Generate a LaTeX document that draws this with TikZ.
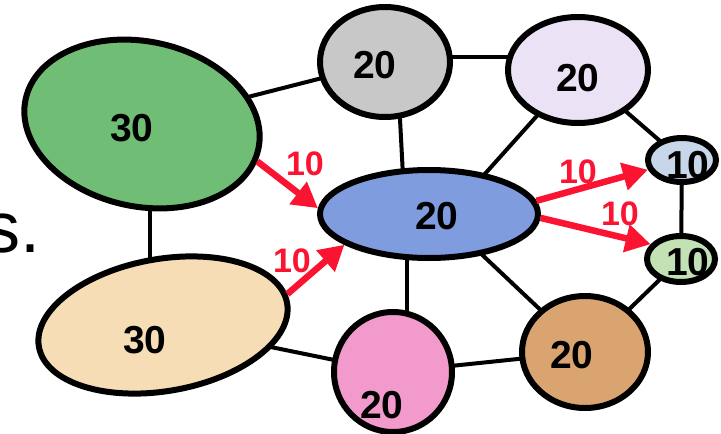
\documentclass[tikz,border=0pt]{standalone}
\usepackage{fontspec}
\setmainfont{Liberation Sans}
\usetikzlibrary{shapes.geometric,arrows.meta,backgrounds}
\definecolor{cgreen}{RGB}{112,190,118}
\definecolor{ctan}{RGB}{246,221,182}
\definecolor{cgray}{RGB}{200,200,200}
\definecolor{clav}{RGB}{236,226,246}
\definecolor{cblue}{RGB}{126,156,222}
\definecolor{csblue}{RGB}{200,214,234}
\definecolor{csgreen}{RGB}{194,226,182}
\definecolor{cpink}{RGB}{242,154,204}
\definecolor{cbrown}{RGB}{218,164,112}
\definecolor{cred}{RGB}{250,20,50}
\begin{document}
\begin{tikzpicture}[x=1pt,y=-1pt,
  blob/.style={ellipse,draw=black,line width=6pt,inner sep=0pt},
  link/.style={line width=4pt},
  flow/.style={draw=cred,line width=6.5pt,-{Triangle[length=25pt,width=27pt]}},
  val/.style={font=\fontsize{39}{39}\bfseries\selectfont,inner sep=0pt},
  flowlbl/.style={text=cred,font=\fontsize{34}{34}\bfseries\selectfont,inner sep=0pt}]
\useasboundingbox (0,0) rectangle (721,434);

% trailing text at the left edge
\node[anchor=base west,inner sep=0pt,font=\fontsize{72}{72}\selectfont] (tail) at (-16,252) {s.};

% regions
\node[blob,fill=cgreen,minimum width=238pt,minimum height=165pt,rotate=-12] (green) at (142,124) {};
\node[blob,fill=ctan,minimum width=252pt,minimum height=132pt,rotate=10] (tan) at (163,325) {};
\node[blob,fill=cgray,minimum width=130pt,minimum height=110pt] (gray) at (385,62) {};
\node[blob,fill=clav,minimum width=140pt,minimum height=106pt] (lav) at (578,70) {};
\node[blob,fill=cblue,minimum width=218pt,minimum height=88pt] (blue) at (429,214) {};
\node[blob,fill=csblue,minimum width=68pt,minimum height=44pt] (sblue) at (682,160) {};
\node[blob,fill=csgreen,minimum width=68pt,minimum height=46pt] (sgreen) at (681,259) {};
\node[blob,fill=cpink,minimum width=118pt,minimum height=120pt] (pink) at (393,372) {};
\node[blob,fill=cbrown,minimum width=126pt,minimum height=112pt] (brown) at (585,352) {};

% neighbour links, behind the regions
\begin{scope}[on background layer]
\draw[link] (green.center) -- (gray.center);
\draw[link] ([xshift=8pt]green.center) -- ([xshift=-13pt]tan.center);
\draw[link] ([yshift=5pt]gray.center) -- ([yshift=13pt]lav.center);
\draw[link] ([xshift=12pt]gray.center) -- ([xshift=-24pt]blue.center);
\draw[link] (lav.center) -- ([xshift=20pt]blue.center);
\draw[link] (lav.center) -- (sblue.center);
\draw[link] (sblue.center) -- (sgreen.center);
\draw[link] ([xshift=-22pt]blue.center) -- ([xshift=14pt]pink.center);
\draw[link] ([xshift=10pt]blue.center) -- (brown.center);
\draw[link] (tan.center) -- (pink.center);
\draw[link] (pink.center) -- (brown.center);
\draw[link] (sgreen.center) -- (brown.center);
\end{scope}

% values
\node[val] (vgreen) at (132,128) {30};
\node[val] (vtan) at (145,340) {30};
\node[val] (vgray) at (375,65) {20};
\node[val] (vlav) at (578,78) {20};
\node[val] (vblue) at (437,216) {20};
\node[val] (vsblue) at (688,165) {10};
\node[val] (vsgreen) at (688,262) {10};
\node[val] (vpink) at (382,405) {20};
\node[val] (vbrown) at (572,355) {20};

% flows
\draw[flow] (green.-6) -- (blue.177);
\draw[flow] (tan.4) -- (blue.200);
\draw[flow] (blue.7) -- (sblue.196);
\draw[flow] (blue.-2) -- (sgreen.154);
\node[flowlbl] (f1) at (305,164) {10};
\node[flowlbl] (f2) at (292,261) {10};
\node[flowlbl] (f3) at (578,172) {10};
\node[flowlbl] (f4) at (620,214) {10};
\end{tikzpicture}
\end{document}
